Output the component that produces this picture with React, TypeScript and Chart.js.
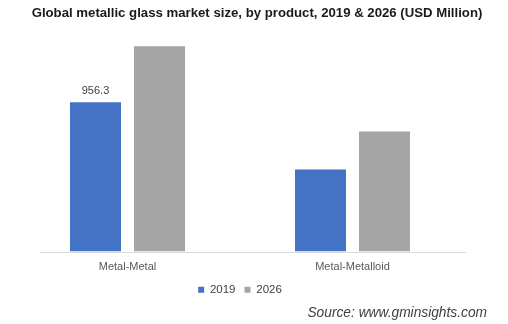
import React, { useEffect, useRef } from "react";
import { Chart, registerables } from "chart.js";

Chart.register(...registerables);

const categories = ["Metal-Metal", "Metal-Metalloid"];
const seriesNames = ["2019", "2026"];
const values2019 = [956.3, 525];
const values2026 = [1315, 769];
const labels2019 = ["956.3", ""];
const colors = ["#4472C4", "#A5A5A5"];
const titleText = "Global metallic glass market size, by product, 2019 & 2026 (USD Million)";
const sourceText = "Source: www.gminsights.com";

const FONT = "'Liberation Sans', Arial, sans-serif";

const extrasPlugin = {
  id: "extras",
  beforeDatasetsDraw(chart: any) {
    const { ctx, chartArea } = chart;
    ctx.save();
    ctx.strokeStyle = "#D9D9D9";
    ctx.lineWidth = 1;
    ctx.beginPath();
    ctx.moveTo(chartArea.left + 25, Math.round(chartArea.bottom) + 0.5);
    ctx.lineTo(chartArea.right + 1, Math.round(chartArea.bottom) + 0.5);
    ctx.stroke();
    ctx.restore();
  },
  afterDatasetsDraw(chart: any) {
    const { ctx } = chart;
    const meta = chart.getDatasetMeta(0);
    ctx.save();
    ctx.font = `11px ${FONT}`;
    ctx.fillStyle = "#404040";
    ctx.textAlign = "center";
    ctx.textBaseline = "bottom";
    meta.data.forEach((bar: any, i: number) => {
      const t = labels2019[i];
      if (t) ctx.fillText(t, bar.x, bar.y - 6);
    });
    ctx.restore();
  },
  afterDraw(chart: any) {
    const { ctx, width, height } = chart;
    ctx.save();
    ctx.font = `bold 13.2px ${FONT}`;
    ctx.fillStyle = "#1A1A1A";
    ctx.textAlign = "center";
    ctx.textBaseline = "middle";
    ctx.fillText(titleText, width / 2 + 3, 13);
    ctx.font = `italic 13.75px ${FONT}`;
    ctx.fillStyle = "#404040";
    ctx.textAlign = "right";
    ctx.fillText(sourceText, width - 21, height - 11);
    ctx.restore();
  },
};

export default function App() {
  const ref = useRef<HTMLCanvasElement>(null);
  useEffect(() => {
    document.body.style.margin = "0";
    const chart = new Chart(ref.current!, {
      type: "bar",
      data: {
        labels: categories,
        datasets: [
          { label: seriesNames[0], data: values2019, backgroundColor: colors[0] },
          { label: seriesNames[1], data: values2026, backgroundColor: colors[1] },
        ],
      },
      options: {
        animation: false,
        responsive: false,
        layout: { padding: { left: 15, right: 43, top: 33, bottom: 18.5 } },
        datasets: {
          bar: { categoryPercentage: 0.569, barPercentage: 0.797 },
        },
        scales: {
          x: {
            grid: { display: false, drawTicks: false },
            border: { display: false },
            ticks: { color: "#595959", font: { family: FONT, size: 11 }, padding: 9 },
            afterFit(scale: any) {
              scale.height = 23.5;
            },
          },
          y: {
            display: false,
            min: 0,
            max: 1400,
          },
        },
        plugins: {
          title: { display: false },
          legend: {
            position: "bottom",
            labels: {
              boxWidth: 6,
              boxHeight: 6,
              padding: 9,
              color: "#404040",
              font: { family: FONT, size: 11.5 },
            },
          },
          tooltip: { enabled: false },
        },
      },
      plugins: [extrasPlugin],
    });
    return () => chart.destroy();
  }, []);
  return <canvas ref={ref} width={508} height={324} style={{ display: "block" }} />;
}
